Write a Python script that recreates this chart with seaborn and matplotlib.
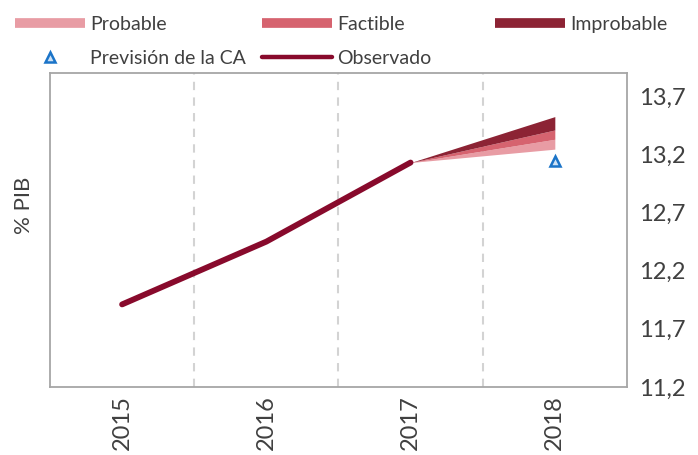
import numpy as np
import pandas as pd
import seaborn as sns
import matplotlib.pyplot as plt
from matplotlib.lines import Line2D

# datos
years = ["2015", "2016", "2017", "2018"]
observado = [11.91, 12.45, 13.13]          # 2015-2017
prevision_ca = [13.14]                       # 2018
fan_years = ["2017", "2018"]
fan_base = [13.13, 13.245]
fan_probable = [13.13, 13.33]
fan_factible = [13.13, 13.41]
fan_improbable = [13.13, 13.525]
yticks = [11.2, 11.7, 12.2, 12.7, 13.2, 13.7]

c_prob = "#E89CA4"
c_fact = "#D6636F"
c_impr = "#8C2334"
c_obs = "#880A2C"
c_blue = "#1B74C8"
txt = "#404040"

sns.set_theme(style="white")
plt.rcParams['font.family'] = ['Lato', 'DejaVu Sans']
plt.rcParams['text.color'] = txt

pos = {y: i for i, y in enumerate(years)}
df_obs = pd.DataFrame({"x": [pos[y] for y in years[:3]], "y": observado})
fx = [pos[y] for y in fan_years]

fig = plt.figure(figsize=(6.98, 4.55), dpi=100)
ax = fig.add_axes([0.0716, 0.1495, 0.8266, 0.6901])

# abanico
ax.fill_between(fx, fan_base, fan_probable, color=c_prob, lw=0, zorder=3)
ax.fill_between(fx, fan_probable, fan_factible, color=c_fact, lw=0, zorder=3)
ax.fill_between(fx, fan_factible, fan_improbable, color=c_impr, lw=0, zorder=3)

sns.lineplot(data=df_obs, x="x", y="y", color=c_obs, lw=4.2, ax=ax,
             solid_capstyle="round", zorder=4)
ax.plot([pos["2018"]], prevision_ca, ls="none", marker="^", ms=7, mew=1.8,
        mec=c_blue, mfc="#CFE2F5", zorder=5)

for xv in [0.5, 1.5, 2.5]:
    ax.axvline(xv, color="#D3D3D3", lw=1.5, ls=(0, (4, 3.5)), zorder=1)

ax.set_xlim(-0.5, 3.5)
ax.set_ylim(11.2, 13.9)
ax.set_xticks(range(len(years)))
ax.set_xticklabels(years, rotation=90, fontsize=17, color=txt)
ax.set_yticks(yticks)
ax.set_yticklabels([f"{v:.1f}".replace(".", ",") for v in yticks], fontsize=17, color=txt)
ax.yaxis.tick_right()
ax.tick_params(axis="y", length=0, pad=9)
ax.tick_params(axis="x", length=0, pad=6)
ax.set_xlabel("")
ax.set_ylabel("% PIB", fontsize=16, color=txt)
ax.yaxis.set_label_position("left")
ax.yaxis.set_label_coords(-0.028, 0.58)
for s in ax.spines.values():
    s.set_color("#A6A6A6")
    s.set_linewidth(1.3)

# leyenda en tres columnas
def h_band(c):
    return Line2D([], [], color=c, lw=7, solid_capstyle="butt")

cols = [
    ([h_band(c_prob),
      Line2D([], [], ls="none", marker="^", ms=7, mew=1.8, mec=c_blue, mfc="#CFE2F5")],
     ["Probable", "Previsión de la CA"], 15),
    ([h_band(c_fact), Line2D([], [], color=c_obs, lw=3.2)],
     ["Factible", "Observado"], 262),
    ([h_band(c_impr)], ["Improbable"], 495),
]
for hs, ls, x0 in cols:
    fig.legend(hs, ls, loc="upper left", bbox_to_anchor=(x0 / 698, 1 - 16 / 455),
               frameon=False, fontsize=14, handlelength=3.6, handletextpad=0.25,
               borderpad=0, borderaxespad=0, labelspacing=0.85, labelcolor=txt)

fig.savefig("out.png", dpi=100)
